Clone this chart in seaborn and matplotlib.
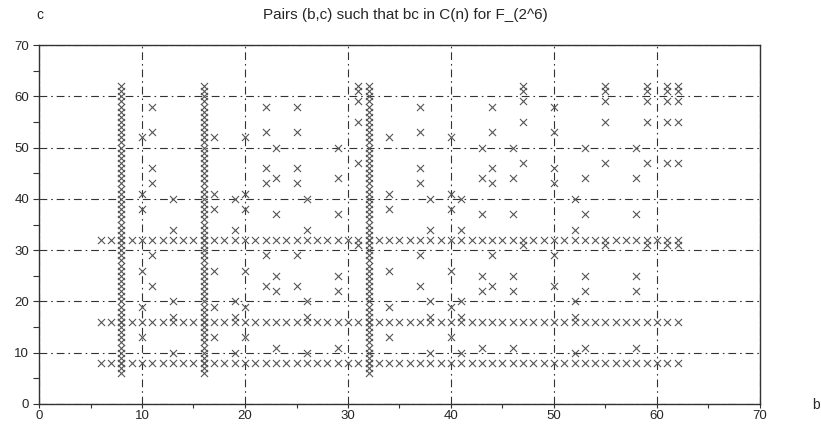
import pandas as pd
import seaborn as sns
import matplotlib.pyplot as plt

# data

# full rows / columns of marks
full_range = [6, 7, 8, 9, 10, 11, 12, 13, 14, 15, 16, 17, 18, 19, 20, 21, 22, 23, 24,
              25, 26, 27, 28, 29, 30, 31, 32, 33, 34, 35, 36, 37, 38, 39, 40, 41, 42,
              43, 44, 45, 46, 47, 48, 49, 50, 51, 52, 53, 54, 55, 56, 57, 58, 59, 60,
              61, 62]
pow2 = [8, 16, 32]

# scattered groups of marks
cos5 = [10, 17, 20, 34, 40]
cos13 = [13, 19, 26, 38, 41, 52]
cos11 = [11, 22, 25, 37, 44, 50]
cos23 = [23, 29, 43, 46, 53, 58]
cos31 = [31, 47, 55, 59, 61, 62]

# build the table of pairs

pairs = []
for c in pow2:
    for b in full_range:
        pairs.append((b, c))
for b in pow2:
    for c in full_range:
        pairs.append((b, c))
for bs, cs in [(cos5, cos13), (cos13, cos5), (cos11, cos23), (cos23, cos11), (cos31, cos31)]:
    for b in bs:
        for c in cs:
            pairs.append((b, c))
df = pd.DataFrame(pairs, columns=["b", "c"])

# plot

sns.set_style("ticks")
plt.rcParams['font.family'] = ['Liberation Sans', 'DejaVu Sans']

fig = plt.figure(figsize=(8.21, 4.26), dpi=100)
ax = fig.add_axes([39/821, 22/426, 721/821, 359/426])

sns.scatterplot(x="b", y="c", data=df, marker="x", color="#555555", s=26,
                linewidth=0.8, ax=ax, legend=False, zorder=3)

ax.set_xlim(0, 70)
ax.set_ylim(0, 70)
ax.set_xticks(range(0, 71, 10))
ax.set_yticks(range(0, 71, 10))
ax.set_xticks(range(5, 70, 10), minor=True)
ax.set_yticks(range(5, 70, 10), minor=True)
ax.tick_params(which="both", direction="out", length=4, width=0.8, color="#333333",
               labelsize=9.5, pad=3)
ax.tick_params(axis="x", which="both", length=3, pad=1)
ax.grid(True, which="major", color="#333333", linewidth=0.8,
        linestyle=(0, (7, 3.5, 1.5, 3.5)))
for sp in ax.spines.values():
    sp.set_visible(True)
    sp.set_color("#333333")
    sp.set_linewidth(1)

ax.set_xlabel("")
ax.set_ylabel("")
fig.text(40/821, 1 - 15/426, "c", ha="center", va="center", fontsize=10)
fig.text(812/821, 1 - 405/426, "b", ha="left", va="center", fontsize=10)
fig.text(405/821, 1 - 15/426, "Pairs (b,c) such that bc in C(n) for F_(2^6)",
         ha="center", va="center", fontsize=11)

plt.savefig("out.png", dpi=100)
